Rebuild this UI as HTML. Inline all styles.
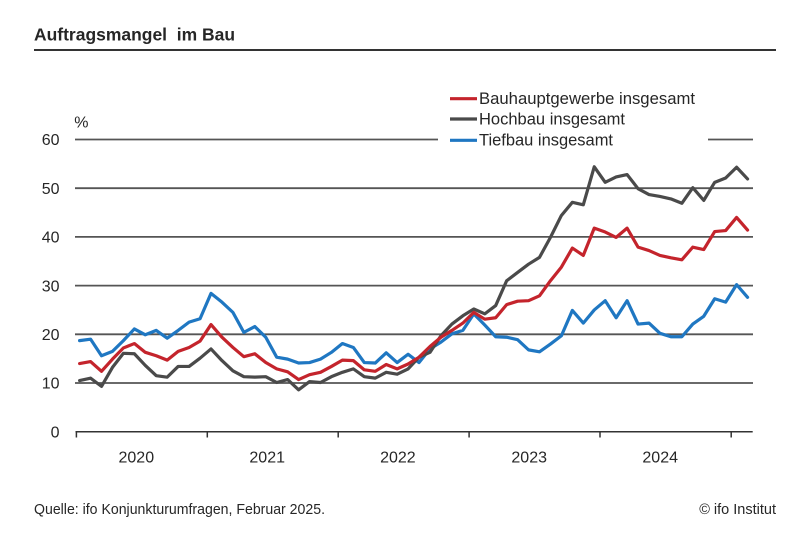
<!DOCTYPE html>
<html>
<head>
<meta charset="utf-8">
<style>
  html,body{margin:0;padding:0;background:#fff;}
  svg{display:block;}
  text{font-family:"Liberation Sans",Arial,sans-serif;fill:#262626;}
</style>
</head>
<body>
<svg width="810" height="540" viewBox="0 0 810 540" xmlns="http://www.w3.org/2000/svg">
  <rect width="810" height="540" fill="#fff"/>
  <!-- Title -->
  <text x="34" y="40.5" font-size="17.5" font-weight="bold" textLength="201" lengthAdjust="spacingAndGlyphs" xml:space="preserve">Auftragsmangel  im Bau</text>
  <line x1="34" y1="50" x2="776" y2="50" stroke="#333" stroke-width="2"/>

  <!-- Gridlines -->
  <g stroke="#555" stroke-width="1.8">
    <line x1="75" y1="139.5" x2="753" y2="139.5"/>
    <line x1="75" y1="188.2" x2="753" y2="188.2"/>
    <line x1="75" y1="236.9" x2="753" y2="236.9"/>
    <line x1="75" y1="285.6" x2="753" y2="285.6"/>
    <line x1="75" y1="334.3" x2="753" y2="334.3"/>
    <line x1="75" y1="383" x2="753" y2="383"/>
  </g>
  <!-- Axis -->
  <g stroke="#333" stroke-width="1.5">
    <line x1="75.5" y1="431.7" x2="752.7" y2="431.7"/>
    <line x1="76.4" y1="431.7" x2="76.4" y2="437.5"/>
    <line x1="207.3" y1="431.7" x2="207.3" y2="437.5"/>
    <line x1="338.2" y1="431.7" x2="338.2" y2="437.5"/>
    <line x1="469.1" y1="431.7" x2="469.1" y2="437.5"/>
    <line x1="600" y1="431.7" x2="600" y2="437.5"/>
    <line x1="731.2" y1="431.7" x2="731.2" y2="437.5"/>
  </g>

  <!-- Y labels -->
  <g font-size="16" text-anchor="end">
    <text x="59.5" y="145.2">60</text>
    <text x="59.5" y="193.9">50</text>
    <text x="59.5" y="242.6">40</text>
    <text x="59.5" y="291.3">30</text>
    <text x="59.5" y="340">20</text>
    <text x="59.5" y="388.7">10</text>
    <text x="59.5" y="437.4">0</text>
  </g>
  <text x="74.3" y="127.5" font-size="16">%</text>

  <!-- X labels -->
  <g font-size="16" text-anchor="middle">
    <text x="136.3" y="462.4">2020</text>
    <text x="267.2" y="462.4">2021</text>
    <text x="397.9" y="462.4">2022</text>
    <text x="529.2" y="462.4">2023</text>
    <text x="660.2" y="462.4">2024</text>
  </g>

  <!-- Legend background -->
  <rect x="438" y="86" width="270" height="64" fill="#fff"/>

  <!-- Series -->
  <g transform="translate(79.6,431.7) scale(10.95,-4.87)" fill="none" stroke-linejoin="round" stroke-linecap="round">
    <polyline vector-effect="non-scaling-stroke" stroke="#1f77c2" stroke-width="3.2" points="0,18.7 1,19.0 2,15.6 3,16.5 4,18.7 5,21.1 6,19.9 7,20.8 8,19.2 9,20.8 10,22.5 11,23.2 12,28.4 13,26.6 14,24.5 15,20.4 16,21.6 17,19.4 18,15.3 19,14.9 20,14.1 21,14.2 22,14.9 23,16.3 24,18.1 25,17.3 26,14.2 27,14.1 28,16.2 29,14.2 30,15.9 31,14.2 32,17.0 33,18.4 34,20.1 35,20.8 36,24.2 37,21.9 38,19.5 39,19.4 40,18.9 41,16.8 42,16.4 43,18.0 44,19.7 45,24.9 46,22.3 47,25.0 48,26.9 49,23.4 50,26.9 51,22.1 52,22.3 53,20.2 54,19.5 55,19.5 56,22.1 57,23.7 58,27.3 59,26.6 60,30.2 61,27.6"/>
    <polyline vector-effect="non-scaling-stroke" stroke="#4a4a4a" stroke-width="3.2" points="0,10.5 1,11.0 2,9.3 3,13.2 4,16.1 5,16.0 6,13.6 7,11.5 8,11.2 9,13.4 10,13.4 11,15.1 12,17.0 13,14.6 14,12.5 15,11.3 16,11.2 17,11.3 18,10.1 19,10.7 20,8.6 21,10.3 22,10.1 23,11.3 24,12.2 25,12.9 26,11.3 27,11.0 28,12.2 29,11.8 30,12.9 31,15.3 32,16.3 33,19.7 34,22.1 35,23.8 36,25.2 37,24.2 38,25.9 39,31.0 40,32.7 41,34.4 42,35.8 43,39.9 44,44.4 45,47.1 46,46.6 47,54.4 48,51.2 49,52.3 50,52.8 51,49.9 52,48.7 53,48.3 54,47.8 55,46.9 56,50.1 57,47.5 58,51.2 59,52.1 60,54.3 61,51.9"/>
    <polyline vector-effect="non-scaling-stroke" stroke="#c4242c" stroke-width="3.2" points="0,14.0 1,14.4 2,12.4 3,14.9 4,17.2 5,18.1 6,16.3 7,15.6 8,14.7 9,16.5 10,17.3 11,18.6 12,22.0 13,19.4 14,17.3 15,15.4 16,16.0 17,14.2 18,12.9 19,12.3 20,10.7 21,11.7 22,12.2 23,13.4 24,14.7 25,14.6 26,12.7 27,12.4 28,13.8 29,12.9 30,13.9 31,15.3 32,17.5 33,19.4 34,20.8 35,22.3 36,24.5 37,23.1 38,23.4 39,26.1 40,26.8 41,26.9 42,27.9 43,31.0 44,33.8 45,37.7 46,36.2 47,41.8 48,41.0 49,39.9 50,41.8 51,37.9 52,37.2 53,36.2 54,35.7 55,35.3 56,37.9 57,37.4 58,41.1 59,41.3 60,44.0 61,41.4"/>
  </g>

  <!-- Legend -->
  <g stroke-width="3.2">
    <line x1="450" y1="98.7" x2="477" y2="98.7" stroke="#c4242c"/>
    <line x1="450" y1="119" x2="477" y2="119" stroke="#4a4a4a"/>
    <line x1="450" y1="140.3" x2="477" y2="140.3" stroke="#1f77c2"/>
  </g>
  <g font-size="16.5">
    <text x="479" y="104" textLength="216" lengthAdjust="spacingAndGlyphs">Bauhauptgewerbe insgesamt</text>
    <text x="479" y="124.5" textLength="146" lengthAdjust="spacingAndGlyphs">Hochbau insgesamt</text>
    <text x="479" y="145.5" textLength="134" lengthAdjust="spacingAndGlyphs">Tiefbau insgesamt</text>
  </g>

  <!-- Footer -->
  <text x="34" y="514" font-size="14.5" textLength="291" lengthAdjust="spacingAndGlyphs">Quelle: ifo Konjunkturumfragen, Februar 2025.</text>
  <text x="776" y="514" font-size="14.5" text-anchor="end">© ifo Institut</text>
</svg>
</body>
</html>
